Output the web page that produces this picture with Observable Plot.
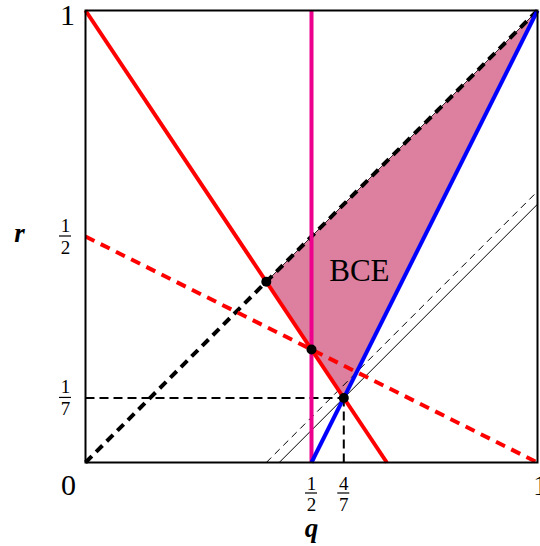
<!DOCTYPE html>
<html>
<head>
<meta charset="utf-8">
<script src="https://cdn.jsdelivr.net/npm/d3@7"></script>
<script src="https://cdn.jsdelivr.net/npm/@observablehq/plot@0.6"></script>
<style>
  html, body { margin: 0; padding: 0; background: #fff; }
  #chart { width: 540px; height: 546px; }
</style>
</head>
<body>
<div id="chart"></div>
<script>
// ---- data (q, r) ----
const bcePolygon = [[0.4, 0.4], [1, 1], [4/7, 1/7], [0.5, 0.25]];
const redSolid   = [[0, 1], [2/3, 0]];
const redDashed  = [[0, 0.5], [1, 0]];
const magenta    = [[0.5, 0], [0.5, 1]];
const blueLine   = [[0.5, 0], [1, 1]];
const diagonal   = [[0, 0], [1, 1]];
const thinSolid  = [[3/7, 0], [1, 4/7]];
const thinDashed = [[0.4, 0], [1, 0.6]];
const guideH     = [[0, 1/7], [4/7, 1/7]];
const guideV     = [[4/7, 0], [4/7, 1/7]];
const keyPoints  = [[0.4, 0.4], [0.5, 0.25], [4/7, 1/7]];

const qTicks = [0.5, 4/7];
const qNum = ["1", "4"];
const qDen = ["2", "7"];
const rTicks = [0.5, 1/7];
const rNum = ["1", "1"];
const rDen = ["2", "7"];
const cornerLabels = [
  {q: 0, r: 0, t: "0", dx: -17, dy: 23},
  {q: 0, r: 1, t: "1", dx: -18, dy: 5},
  {q: 1, r: 0, t: "1", dx: 3, dy: 23}
];
const regionLabel = [{q: 0.606, r: 0.423, t: "BCE"}];

const qT = qTicks.map((v, i) => ({v, n: qNum[i], d: qDen[i]}));
const rT = rTicks.map((v, i) => ({v, n: rNum[i], d: rDen[i]}));

const X = d => d[0], Y = d => d[1];
const serif = "Liberation Serif, DejaVu Serif, serif";

const seg = (data, opts) => Plot.line(data, {x: X, y: Y, strokeLinecap: "butt", ...opts});

const chart = Plot.plot({
  width: 540,
  height: 546,
  marginLeft: 85,
  marginRight: 3,
  marginTop: 10,
  marginBottom: 84,
  x: {domain: [0, 1], axis: null},
  y: {domain: [0, 1], axis: null},
  style: {fontFamily: serif, background: "white"},
  marks: [
    Plot.line(bcePolygon, {x: X, y: Y, fill: "#dd7f9f", stroke: "#000", strokeWidth: 0.8, curve: "linear-closed"}),
    seg(thinSolid, {stroke: "#000", strokeWidth: 1}),
    seg(thinDashed, {stroke: "#000", strokeWidth: 1, strokeDasharray: "7,5"}),
    seg(guideH, {stroke: "#000", strokeWidth: 2, strokeDasharray: "9,5"}),
    seg(guideV, {stroke: "#000", strokeWidth: 2, strokeDasharray: "9,5"}),
    seg(diagonal, {stroke: "#000", strokeWidth: 4, strokeDasharray: "9,6"}),
    seg(redDashed, {stroke: "#ff0000", strokeWidth: 4, strokeDasharray: "10,7"}),
    seg(magenta, {stroke: "#ec008c", strokeWidth: 4}),
    seg(redSolid, {stroke: "#ff0000", strokeWidth: 4}),
    seg(blueLine, {stroke: "#0000ff", strokeWidth: 4}),
    Plot.dot(keyPoints, {x: X, y: Y, r: 5, fill: "#000"}),
    Plot.frame({stroke: "#000", strokeWidth: 2}),
    Plot.text(regionLabel, {x: "q", y: "r", text: "t", fontSize: 31, fill: "#000"}),
    ...cornerLabels.map(c => Plot.text([c], {x: "q", y: "r", text: "t", dx: c.dx, dy: c.dy, fontSize: 30, fill: "#000"})),
    // q-axis fractions
    Plot.text(qT, {x: "v", y: () => 0, text: "n", dy: 21, fontSize: 19, fill: "#000"}),
    Plot.rect(qT, {x1: "v", x2: "v", y1: () => 0, y2: () => 0, insetLeft: -6, insetRight: -6, insetTop: -0.6, insetBottom: -0.6, dy: 31, fill: "#000"}),
    Plot.text(qT, {x: "v", y: () => 0, text: "d", dy: 42, fontSize: 19, fill: "#000"}),
    // r-axis fractions
    Plot.text(rT, {x: () => 0, y: "v", text: "n", dx: -20, dy: -11, fontSize: 19, fill: "#000"}),
    Plot.rect(rT, {x1: () => 0, x2: () => 0, y1: "v", y2: "v", insetLeft: -6, insetRight: -6, insetTop: -0.6, insetBottom: -0.6, dx: -20, fill: "#000"}),
    Plot.text(rT, {x: () => 0, y: "v", text: "d", dx: -20, dy: 11, fontSize: 19, fill: "#000"}),
    // axis titles
    Plot.text([{q: 0.5, r: 0}], {x: "q", y: "r", text: () => "q", dy: 66, fontSize: 27, fontWeight: "bold", fontStyle: "italic", fill: "#000"}),
    Plot.text([{q: 0, r: 0.5}], {x: "q", y: "r", text: () => "r", dx: -66, dy: -3, fontSize: 27, fontWeight: "bold", fontStyle: "italic", fill: "#000"})
  ]
});
document.getElementById("chart").appendChild(chart);
</script>
</body>
</html>
